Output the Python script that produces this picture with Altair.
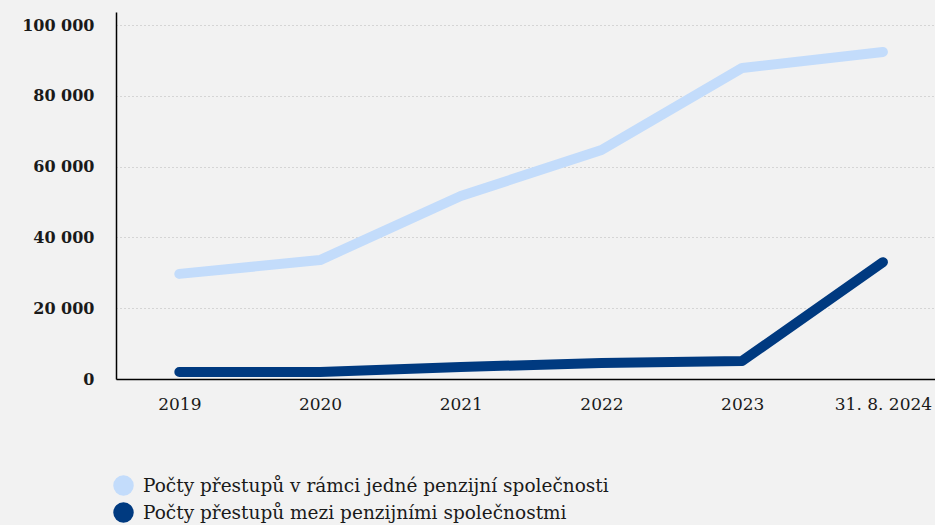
import altair as alt
import pandas as pd

# Period labels along the x axis
periods = ["2019", "2020", "2021", "2022", "2023", "31. 8. 2024"]

series_names = [
    "Počty přestupů v rámci jedné penzijní společnosti",
    "Počty přestupů mezi penzijními společnostmi",
]
series_colors = ["#c3dcfb", "#003a80"]

within_company = [29700, 33600, 51700, 64700, 87900, 92400]
between_companies = [2000, 2000, 3400, 4500, 5100, 33000]

rows = []
for i, v in enumerate(within_company):
    rows.append({"idx": i, "value": v, "series": series_names[0]})
for i, v in enumerate(between_companies):
    rows.append({"idx": i, "value": v, "series": series_names[1]})
df = pd.DataFrame(rows)

label_expr = "[" + ",".join("'" + p + "'" for p in periods) + "][datum.value]"

FONT = "DejaVu Serif"

x_enc = alt.X(
    "idx:Q",
    scale=alt.Scale(domain=[-0.45, 5.37], nice=False, zero=False),
    axis=alt.Axis(
        values=list(range(len(periods))),
        labelExpr=label_expr,
        title=None,
        grid=False,
        ticks=False,
        domainColor="#000000",
        domainWidth=1.5,
        labelFont=FONT,
        labelFontSize=17,
        labelColor="#1a1a1a",
        labelPadding=17,
        labelFlush=False,
    ),
)
y_enc = alt.Y(
    "value:Q",
    scale=alt.Scale(domain=[0, 103700], nice=False),
    axis=alt.Axis(
        values=[0, 20000, 40000, 60000, 80000, 100000],
        labelExpr="replace(format(datum.value, ',d'), ',', ' ')",
        title=None,
        ticks=False,
        grid=True,
        gridColor="#b8b8b8",
        gridDash=[1, 3],
        gridWidth=1,
        domainColor="#000000",
        domainWidth=1.5,
        labelFont=FONT,
        labelFontSize=16,
        labelFontWeight="bold",
        labelColor="#1a1a1a",
        labelPadding=22,
    ),
)

base = alt.Chart(df)

lines = base.mark_line(strokeWidth=10, strokeCap="round", strokeJoin="round").encode(
    x=x_enc,
    y=y_enc,
    color=alt.Color(
        "series:N",
        scale=alt.Scale(domain=series_names, range=series_colors),
        sort=series_names,
        legend=None,
    ),
)

# invisible filled points that carry the legend with solid round swatches
dots = base.mark_point(filled=True, opacity=0, size=1).encode(
    x=x_enc,
    y=y_enc,
    color=alt.Color(
        "series:N",
        scale=alt.Scale(domain=series_names, range=series_colors),
        sort=series_names,
        legend=alt.Legend(
            title=None,
            orient="none",
            legendX=-3,
            legendY=463,
            direction="vertical",
            symbolType="circle",
            symbolSize=420,
            symbolStrokeWidth=0,
            symbolOpacity=1,
            labelFont=FONT,
            labelFontSize=18.5,
            labelColor="#1a1a1a",
            labelOffset=9,
            rowPadding=6,
            labelLimit=700,
        ),
    ),
)

chart = (
    alt.layer(lines, dots)
    .resolve_scale(color="independent")
    .resolve_legend(color="independent")
    .properties(
        width=819,
        height=367,
        background="#f2f2f2",
        padding={"left": 116, "top": 12, "right": 0, "bottom": 146},
        autosize=alt.AutoSizeParams(type="none"),
    )
    .configure_view(stroke=None)
)

chart.save("out.html", embed_options={"renderer": "svg", "actions": False})
